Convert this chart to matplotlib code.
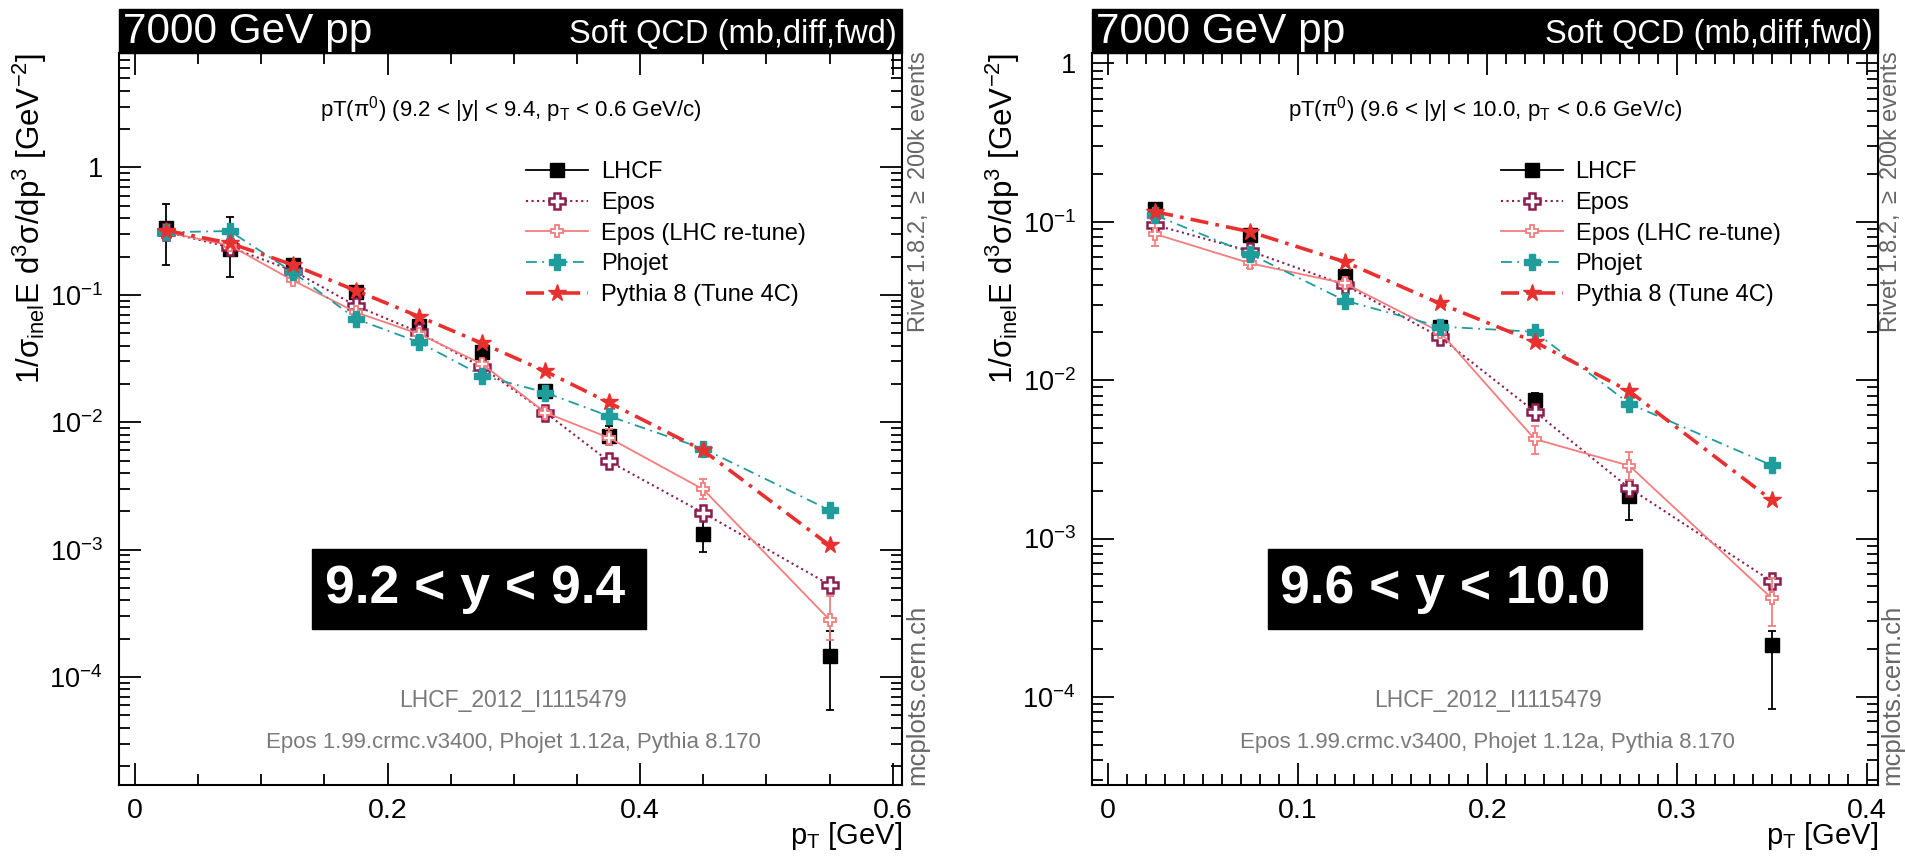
import math
import matplotlib
matplotlib.use("Agg")
import matplotlib.pyplot as plt
from matplotlib.patches import Rectangle
from matplotlib.lines import Line2D
from matplotlib.ticker import MultipleLocator, LogLocator, FuncFormatter, NullFormatter

plt.rcParams['font.family'] = ['Liberation Sans', 'DejaVu Sans']
plt.rcParams['mathtext.fontset'] = 'custom'
plt.rcParams['mathtext.rm'] = 'Liberation Sans'
plt.rcParams['mathtext.it'] = 'Liberation Sans:italic'
plt.rcParams['mathtext.bf'] = 'Liberation Sans:bold'

# ---- left panel: 9.2 < y < 9.4 ----
pt_l = [0.025, 0.075, 0.125, 0.175, 0.225, 0.275, 0.325, 0.375, 0.45, 0.55]
lhcf_l = [0.335, 0.227, 0.170, 0.106, 0.057, 0.0353, 0.0177, 0.0078, 0.00133, 1.45e-4]
lhcf_l_lo = [0.172, 0.139, 0.160, 0.100, 0.053, 0.033, 0.0163, 0.0066, 9.6e-4, 5.5e-5]
lhcf_l_hi = [0.52, 0.408, 0.180, 0.112, 0.061, 0.0376, 0.0191, 0.0094, 1.8e-3, 2.3e-4]
epos_l = [0.311, 0.237, 0.155, 0.082, 0.0508, 0.0269, 0.0119, 0.00496, 0.00194, 5.3e-4]
eposlhc_l = [0.31, 0.245, 0.130, 0.073, 0.0493, 0.0286, 0.0119, 0.00757, 0.00297, 2.81e-4]
eposlhc_l_lo = [0.30, 0.238, 0.126, 0.071, 0.048, 0.0277, 0.0114, 0.0066, 0.00248, 1.95e-4]
eposlhc_l_hi = [0.32, 0.252, 0.134, 0.075, 0.0506, 0.0295, 0.0124, 0.0088, 0.00356, 4.34e-4]
phojet_l = [0.31, 0.317, 0.151, 0.0647, 0.0424, 0.0232, 0.0171, 0.0112, 0.0062, 0.00204]
pythia_l = [0.32, 0.255, 0.172, 0.108, 0.0675, 0.0416, 0.0251, 0.0143, 0.0060, 0.00108]

# ---- right panel: 9.6 < y < 10.0 ----
pt_r = [0.025, 0.075, 0.125, 0.175, 0.225, 0.275, 0.35]
lhcf_r = [0.121, 0.0824, 0.0455, 0.0218, 0.0075, 0.00185, 2.14e-4]
lhcf_r_lo = [0.116, 0.079, 0.0435, 0.0208, 0.0068, 0.00131, 8.4e-5]
lhcf_r_hi = [0.126, 0.086, 0.0475, 0.0228, 0.0083, 0.0023, 2.6e-4]
epos_r = [0.0953, 0.0653, 0.0399, 0.0187, 0.00634, 0.00208, 5.37e-4]
eposlhc_r = [0.0836, 0.0547, 0.0408, 0.0202, 0.00425, 0.00288, 4.2e-4]
eposlhc_r_lo = [0.0703, 0.051, 0.039, 0.0194, 0.0034, 0.00234, 2.8e-4]
eposlhc_r_hi = [0.100, 0.0585, 0.0426, 0.021, 0.0051, 0.0035, 5.6e-4]
phojet_r = [0.110, 0.0625, 0.0318, 0.0218, 0.0202, 0.0071, 0.0029]
pythia_r = [0.1157, 0.0865, 0.0558, 0.0305, 0.01746, 0.0085, 0.00175]

labels = ["LHCF", "Epos", "Epos (LHC re-tune)", "Phojet", "Pythia 8 (Tune 4C)"]
c_epos = '#8c1d4e'
c_eposlhc = '#f47c7c'
c_phojet = '#1f9c9c'
c_pythia = '#e8302f'

W, H = 1906, 861
fig = plt.figure(figsize=(W / 100, H / 100), dpi=100)


def yfmt(v, pos):
    if abs(v - 1) < 1e-9:
        return '1'
    return r'$10^{%d}$' % int(round(math.log10(v)))


def xfmt(v, pos):
    return '0' if abs(v) < 1e-9 else ('%g' % v)


def asym(v, lo, hi):
    return [[a - b for a, b in zip(v, lo)], [c - a for a, c in zip(v, hi)]]


def panel(rect, pt, lhcf, lhcf_lo, lhcf_hi, epos, elhc, elhc_lo, elhc_hi, phojet, pythia,
          xlim, ylim, xmaj, xmin, title, boxtxt, boxx, boxw, rivet_x, mc_x):
    ax = fig.add_axes(rect)
    ax.errorbar(pt, lhcf, yerr=asym(lhcf, lhcf_lo, lhcf_hi), fmt='s', color='k',
                ms=10, elinewidth=1.3, capsize=3, capthick=1.3, zorder=3)
    ax.plot(pt, epos, ls=':', lw=1.5, color=c_epos, marker='P', ms=12,
            mfc='white', mec=c_epos, mew=1.8, zorder=4)
    ax.errorbar(pt, elhc, yerr=asym(elhc, elhc_lo, elhc_hi), ls='-', lw=1.3, color=c_eposlhc,
                marker='P', ms=8, mfc='white', mec=c_eposlhc, mew=1.3,
                elinewidth=1.3, capsize=3, capthick=1.3, zorder=5)
    ax.plot(pt, phojet, ls=(0, (6, 3, 1, 3)), lw=1.3, color=c_phojet, marker='P', ms=12,
            mec=c_phojet, zorder=6)
    ax.plot(pt, pythia, ls=(0, (5, 2, 1, 2)), lw=2.6, color=c_pythia, marker='*', ms=13,
            zorder=7)

    ax.set_yscale('log')
    ax.set_xlim(*xlim)
    ax.set_ylim(*ylim)
    ax.xaxis.set_major_locator(MultipleLocator(xmaj))
    ax.xaxis.set_minor_locator(MultipleLocator(xmin))
    ax.xaxis.set_major_formatter(FuncFormatter(xfmt))
    ax.yaxis.set_major_locator(LogLocator(base=10, numticks=20))
    ax.yaxis.set_minor_locator(LogLocator(base=10, subs=range(2, 10), numticks=20))
    ax.yaxis.set_major_formatter(FuncFormatter(yfmt))
    ax.yaxis.set_minor_formatter(NullFormatter())
    ax.tick_params(which='both', direction='in', top=True, right=True, width=1.3)
    ax.tick_params(which='major', length=16)
    ax.tick_params(which='minor', length=8)
    ax.tick_params(axis='x', labelsize=20.5, pad=9)
    ax.tick_params(axis='y', labelsize=19.5, pad=12)
    for s in ax.spines.values():
        s.set_linewidth(1.5)

    ax.set_xlabel(r'p$_{\rm T}$ [GeV]', fontsize=21, loc='right')
    ax.xaxis.set_label_coords(1.0, -0.07)
    ax.xaxis.label.set_va('center')
    ax.set_ylabel(r'1/σ$_{\rm inel}$E d$^{3}$σ/dp$^{3}$ [GeV$^{-2}$]', fontsize=22.5, loc='top')
    ax.yaxis.set_label_coords(-0.114, 1.0)
    ax.yaxis.label.set_va('center')

    # header bar
    hb = (52.7 - 9) / 732.3
    ax.add_patch(Rectangle((0, 1), 1, hb, transform=ax.transAxes, color='black',
                           clip_on=False, zorder=10))
    ax.text(0.004, 1.0135, '7000 GeV pp', transform=ax.transAxes, color='white',
            fontsize=30.5, va='baseline', ha='left', zorder=11)
    ax.text(0.993, 1.0135, 'Soft QCD (mb,diff,fwd)', transform=ax.transAxes, color='white',
            fontsize=23.5, va='baseline', ha='right', zorder=11)

    ax.text(0.5, 0.922, title, transform=ax.transAxes, fontsize=16, ha='center', va='center')
    ax.text(0.503, 0.116, 'LHCF_2012_I1115479', transform=ax.transAxes, fontsize=16.5,
            color='#7a7a7a', ha='center', va='center')
    ax.text(0.503, 0.0575, 'Epos 1.99.crmc.v3400, Phojet 1.12a, Pythia 8.170',
            transform=ax.transAxes, fontsize=16, color='#7a7a7a', ha='center', va='center')

    # label box
    ax.add_patch(Rectangle((boxx, 0.213), boxw, 0.109, transform=ax.transAxes,
                           color='black', zorder=12))
    ax.text(boxx + 0.016, 0.2675, boxtxt, transform=ax.transAxes, color='white',
            fontsize=38.5, fontweight='bold', ha='left', va='center', zorder=13)

    handles = [
        Line2D([], [], color='k', marker='s', ms=10, lw=1.3),
        Line2D([], [], color=c_epos, ls=':', lw=1.5, marker='P', ms=12, mfc='white', mew=1.8),
        Line2D([], [], color=c_eposlhc, ls='-', lw=1.3, marker='P', ms=8, mfc='white', mew=1.3),
        Line2D([], [], color=c_phojet, ls=(0, (6, 3, 1, 3)), lw=1.3, marker='P', ms=12),
        Line2D([], [], color=c_pythia, ls=(0, (5, 2, 1, 2)), lw=2.6, marker='*', ms=13),
    ]
    ax.legend(handles, labels, loc='upper left', bbox_to_anchor=(0.52, 0.852), frameon=False,
              fontsize=17, handlelength=2.6, handletextpad=0.55, labelspacing=0.37,
              borderpad=0, borderaxespad=0)

    fig.text(rivet_x / W, 1 - 51 / H, r'Rivet 1.8.2, $\geq$ 200k events', rotation=90,
             fontsize=17, color='#666666', ha='center', va='top')
    fig.text(mc_x / W, 1 - 785 / H, 'mcplots.cern.ch', rotation=90,
             fontsize=18.5, color='#666666', ha='center', va='bottom')
    return ax


panel([119.5 / W, 76 / H, 782.5 / W, 732.3 / H], pt_l, lhcf_l, lhcf_l_lo, lhcf_l_hi,
      epos_l, eposlhc_l, eposlhc_l_lo, eposlhc_l_hi, phojet_l, pythia_l,
      (-0.0122, 0.6073), (1.42e-5, 7.96), 0.2, 0.05,
      r'pT(π$^{0}$) (9.2 < |y| < 9.4, p$_{\rm T}$ < 0.6 GeV/c)', '9.2 < y < 9.4',
      0.246, 0.427, 918, 917)

panel([1092.5 / W, 76 / H, 786 / W, 732.3 / H], pt_r, lhcf_r, lhcf_r_lo, lhcf_r_hi,
      epos_r, eposlhc_r, eposlhc_r_lo, eposlhc_r_hi, phojet_r, pythia_r,
      (-0.0081, 0.4063), (2.78e-5, 1.168), 0.1, 0.01,
      r'pT(π$^{0}$) (9.6 < |y| < 10.0, p$_{\rm T}$ < 0.6 GeV/c)', '9.6 < y < 10.0',
      0.2228, 0.4758, 1890, 1892)

fig.savefig('out.png', dpi=100)
